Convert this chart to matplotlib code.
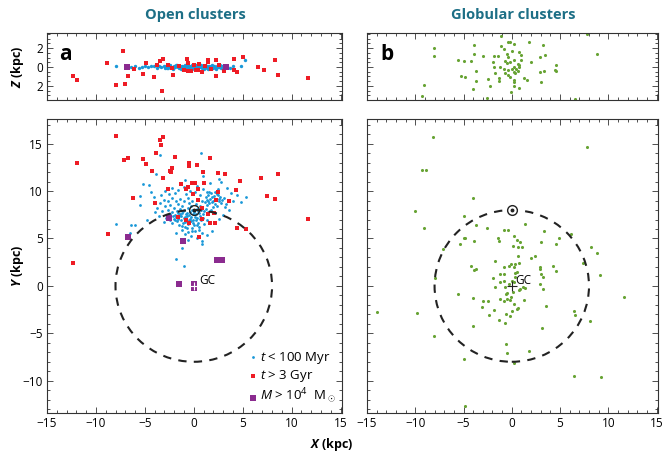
import numpy as np
import matplotlib.pyplot as plt
from matplotlib.patches import Circle
from matplotlib.ticker import MultipleLocator, FixedLocator, FixedFormatter

plt.rcParams['font.family'] = ['Open Sans', 'DejaVu Sans']
plt.rcParams['mathtext.fontset'] = 'custom'
plt.rcParams['mathtext.rm'] = 'Open Sans'
plt.rcParams['mathtext.it'] = 'Open Sans:italic'
plt.rcParams['mathtext.bf'] = 'Open Sans:bold'
plt.rcParams['mathtext.bfit'] = 'Open Sans:italic:bold'

# ---- open clusters, young (t < 100 Myr), X-Y plane
blue_xy = np.array([
    (-2.2, 10.3), (-1.6, 10.1), (-1.0, 10.4), (-0.4, 10.0), (0.3, 10.5), (0.9, 10.2), (1.3, 9.9),
    (-2.9, 10.0), (-3.4, 9.6), (-2.5, 9.7), (-1.9, 9.8), (-0.8, 9.7), (0.1, 9.9), (0.6, 9.6),
    (1.2, 9.4), (1.5, 9.6), (1.8, 9.8), (2.1, 9.5), (2.4, 9.7), (2.7, 9.4), (2.9, 9.1), (1.4, 9.1),
    (1.7, 9.2), (2.0, 9.0), (2.3, 9.2), (2.6, 8.9), (1.1, 8.8), (1.6, 8.7), (2.2, 8.6), (2.8, 8.7),
    (3.1, 9.3), (1.9, 9.4), (2.5, 9.6), (1.3, 8.5), (3.3, 8.6), (2.0, 8.3),
    (1.6, 9.9), (2.2, 9.9), (2.6, 9.2), (1.5, 8.9), (1.9, 8.8), (2.4, 8.4),
    (-3.0, 9.1), (-2.6, 8.9), (-2.2, 9.3), (-1.8, 9.0), (-1.4, 9.2), (-1.0, 8.9), (-0.6, 9.3),
    (-0.2, 9.0), (0.4, 9.2), (0.8, 8.9), (-2.4, 8.5), (-1.6, 8.6), (-1.2, 8.4), (-0.5, 8.7),
    (0.2, 8.6), (0.6, 8.4), (-3.5, 8.7), (-2.9, 8.4),
    (-2.6, 8.0), (-2.2, 7.8), (-2.0, 8.2), (-1.7, 7.9), (-1.4, 8.1), (-1.2, 7.7), (-1.0, 8.0),
    (-0.8, 7.6), (-0.6, 8.2), (-0.4, 7.8), (-0.3, 8.4), (-0.1, 7.6), (0.3, 8.1), (0.5, 7.7),
    (0.7, 8.0), (0.9, 7.6), (1.2, 8.1), (1.5, 7.8), (1.8, 8.0), (2.2, 7.7), (-1.9, 7.5),
    (-1.5, 7.4), (-0.9, 7.3), (-0.5, 7.5), (0.1, 7.3), (0.6, 7.4),
    (-2.8, 7.2), (-2.4, 7.0), (-2.0, 7.1), (-1.7, 6.8), (-1.3, 7.0), (-1.1, 6.6), (-0.8, 6.9),
    (-0.6, 6.5), (-0.3, 6.8), (0.0, 6.4), (0.2, 6.9), (0.4, 6.6), (0.7, 6.9), (1.0, 6.5),
    (1.3, 7.0), (-1.5, 6.4), (-0.9, 6.2), (-0.2, 6.1), (0.5, 6.2), (1.6, 6.7), (-2.2, 6.6),
    (-3.0, 6.7), (-1.2, 5.9), (-0.6, 5.7), (0.1, 5.8), (0.8, 5.6), (-0.3, 5.3), (0.3, 5.1),
    (1.4, 5.4), (-0.6, 4.8), (0.8, 4.7), (1.9, 5.8), (-1.8, 5.6),
    (-1.1, 7.9), (-0.7, 7.7), (-0.2, 8.0), (0.4, 7.9), (-1.6, 7.7), (-0.4, 7.1), (0.2, 7.6),
    (-1.3, 7.4), (-0.1, 7.0), (0.9, 7.2), (-2.4, 7.6), (1.0, 7.9),
    (-1.8, 7.3), (-1.4, 7.6), (-1.0, 7.2), (-0.7, 7.4), (-0.3, 7.3), (0.0, 7.8), (0.3, 7.2),
    (0.6, 7.1), (-0.9, 6.7), (-0.5, 6.9), (-0.1, 6.6), (0.3, 6.4), (-1.2, 6.3), (-0.7, 6.1),
    (-2.1, 7.4), (-1.6, 7.1), (-1.9, 6.9), (-0.2, 5.8), (0.5, 5.9), (-0.9, 5.5),
    (0.7, 14.0), (-3.45, 13.8), (-3.9, 11.8), (2.6, 11.3), (2.8, 11.0), (0.9, 11.6), (-0.9, 11.2),
    (1.7, 10.8), (-5.2, 10.7), (-4.6, 10.6), (-4.4, 9.9), (-4.1, 9.4), (-5.5, 9.5), (-5.5, 8.5),
    (3.4, 10.3), (3.8, 9.8), (4.4, 9.6), (4.8, 8.8), (5.3, 9.4), (4.0, 8.9), (3.6, 8.0),
    (3.0, 7.5), (2.6, 7.1), (-4.0, 7.8), (-3.6, 7.4), (-4.8, 7.0), (-6.4, 6.4), (-6.5, 5.6),
    (-8.0, 6.5), (-6.0, 6.4), (-1.8, 2.85), (-1.05, 2.1), (-1.25, 4.0), (0.8, 4.4), (-3.2, 7.9),
    (-3.8, 8.2), (2.5, 10.2), (3.2, 8.3),
])

# ---- open clusters, young, X-Z plane
blue_xz = np.array([
    (-8.0, 0.1), (-6.4, -0.05), (-6.0, 0.05), (-5.6, -0.1), (-5.3, 0.0), (-5.0, 0.1), (-4.7, -0.05),
    (-4.4, 0.15), (-4.1, 0.05), (-3.8, -0.1), (-3.6, 0.1), (-3.3, 0.0), (-3.0, 0.15), (-2.9, -0.1),
    (4.8, 0.15), (5.2, 0.75), (4.0, 0.05), (3.7, -0.1),
    (-2.8, 0.05), (-2.6, -0.1), (-2.5, 0.12), (-2.3, 0.0), (-2.2, -0.15), (-2.0, 0.1), (-1.9, -0.05),
    (-1.8, 0.18), (-1.6, 0.0), (-1.5, -0.12), (-1.4, 0.1), (-1.3, -0.2), (-1.2, 0.05), (-1.0, 0.15),
    (-0.9, -0.1), (-0.8, 0.0), (-0.7, 0.2), (-0.6, -0.15), (-0.5, 0.08), (-0.4, -0.05), (-0.3, 0.15),
    (-0.2, -0.2), (-0.1, 0.0), (0.0, 0.1), (0.1, -0.1), (0.2, 0.18), (0.3, 0.0), (0.4, -0.15),
    (0.5, 0.1), (0.6, -0.05), (0.7, 0.2), (0.8, -0.1), (0.9, 0.05), (1.0, -0.2), (1.1, 0.12),
    (1.2, 0.0), (1.3, -0.12), (1.4, 0.15), (1.5, -0.05), (1.6, 0.08), (1.7, -0.15), (1.8, 0.1),
    (1.9, 0.0), (2.0, -0.1), (2.1, 0.15), (2.2, 0.02), (2.3, -0.12), (2.4, 0.1), (2.5, -0.05),
    (2.6, 0.12), (2.7, 0.0), (2.8, -0.1), (2.9, 0.08), (3.0, -0.02), (3.1, 0.1), (3.2, -0.08),
    (3.3, 0.05), (3.4, 0.0), (-0.45, 0.0), (0.35, 0.05), (1.25, 0.1), (2.15, -0.05), (-1.65, 0.1),
    (-0.95, -0.02), (-2.05, -0.02), (2.55, 0.03), (0.05, -0.03), (-1.1, -0.05),
    (-2.7, -0.15), (-2.4, 0.2), (-2.1, -0.2), (-1.7, 0.22), (-1.35, -0.05), (-0.85, 0.2),
    (-0.55, -0.2), (-0.15, 0.2), (0.25, -0.2), (0.65, 0.18), (1.05, -0.05), (1.45, -0.2),
    (1.85, 0.2), (2.25, -0.2), (2.65, 0.2), (3.05, -0.15), (3.35, 0.15), (-2.95, 0.02),
])

# ---- open clusters, old (t > 3 Gyr)
red_xy = np.array([
    (-7.9, 15.8), (-11.9, 13.0), (-3.1, 15.7), (-3.45, 15.4), (-3.4, 14.9), (-3.9, 14.0), (-7.1, 13.3),
    (-6.7, 13.5), (-5.2, 13.4), (-4.9, 12.9), (-1.9, 13.6), (1.7, 13.5), (-0.5, 13.0), (-0.5, 12.6),
    (0.3, 12.8), (-4.3, 12.1), (-2.2, 12.4), (-2.3, 12.0), (-2.4, 12.1), (0.95, 12.0), (2.5, 11.9),
    (3.2, 11.8), (-3.1, 11.4), (4.7, 11.1), (6.9, 11.4), (8.6, 11.75), (-1.3, 10.7), (-0.2, 10.8),
    (0.1, 10.8), (1.0, 10.9), (-2.6, 10.2), (-0.8, 10.2), (-0.6, 10.4), (0.4, 10.25), (2.5, 9.9),
    (4.3, 10.1), (7.5, 9.5), (8.3, 9.2), (-6.2, 9.3), (-4.0, 8.7), (3.6, 8.9), (-0.1, 9.7),
    (0.4, 9.1), (2.3, 9.1), (11.7, 7.1), (-8.8, 5.5), (-12.3, 2.4), (4.4, 6.1), (5.3, 6.0),
    (2.2, 6.6), (1.7, 6.6), (0.5, 5.2), (-0.5, 6.6), (0.8, 7.05), (2.1, 7.65), (0.8, 8.2),
    (1.45, 7.6), (-0.8, 7.0), (-1.6, 7.3),
])
red_xz = np.array([
    (-12.3, -1.0), (-11.9, -1.4), (-8.9, 0.45), (-7.2, 1.65), (-7.9, -1.95), (-7.0, -1.8),
    (-6.7, -1.0), (-6.1, -0.2), (-4.9, 0.45), (-5.2, -0.7), (-4.1, -1.1), (-3.8, 0.25), (-3.5, 0.6),
    (-3.1, 0.8), (-3.2, -2.5), (-2.6, 0.2), (-2.2, -0.1), (-2.1, -0.9), (-1.5, 0.1), (-1.0, -0.3),
    (-0.7, 0.8), (-0.6, 0.4), (-0.6, -0.45), (-0.3, -0.4), (0.0, 0.2), (0.2, -0.3), (0.45, -0.35),
    (0.5, 0.3), (0.8, -0.5), (1.1, 0.1), (1.5, 0.5), (1.5, 0.7), (1.8, -0.2), (2.3, 0.7),
    (2.3, -1.0), (2.6, 0.2), (3.1, -0.4), (4.1, 0.8), (4.1, -0.35), (4.4, -0.5), (5.0, 1.05),
    (6.6, 0.0), (7.2, -0.3), (8.3, 0.7), (8.6, -0.9), (11.7, -1.2),
])

# ---- open clusters, massive (M > 1e4 Msun)
purple_xy = np.array([
    (-6.7, 5.2), (-2.5, 7.2), (-1.1, 4.7), (2.4, 2.7), (2.9, 2.7), (-1.55, 0.25), (0.0, 0.2), (0.0, -0.2),
])
purple_xz = np.array([(-6.8, -0.05), (3.3, 0.02)])

# ---- globular clusters
green_xy = np.array([
    (-8.2, 15.7), (7.8, 14.6), (-9.3, 12.25), (-8.85, 12.25), (-4.06, 9.26), (-10.0, 7.9), (-4.9, 7.36),
    (-9.1, 6.06), (-3.75, 6.44), (-2.57, 6.09), (1.32, 6.48), (-0.83, 5.92), (-0.35, 5.92), (3.3, 5.8),
    (6.15, 5.5), (-4.9, 5.0), (-4.8, 5.1), (-3.96, 4.75), (-1.4, 5.1), (-1.3, 4.75), (0.2, 5.3),
    (0.5, 4.86), (0.8, 4.65), (0.66, 4.05), (1.04, 4.08), (4.9, 5.03), (3.0, 4.68), (4.6, 4.37),
    (-5.35, 4.44), (-7.1, 3.94), (0.17, 4.26), (8.2, 4.12), (8.8, 3.42), (0.66, 3.2), (1.94, 2.99),
    (2.43, 3.17), (-1.77, 2.64), (-0.3, 2.1), (-0.1, 2.3), (0.35, 2.3), (0.2, 1.95), (0.7, 2.45),
    (-0.83, 2.04), (-4.2, 2.08), (-3.7, 1.83), (-3.96, 1.69), (2.95, 2.0), (2.88, 1.76), (4.27, 2.08),
    (4.6, 1.62), (0.3, 1.4), (0.55, 1.48), (7.4, 2.4), (9.1, 1.13), (-1.25, 1.23), (-0.76, 1.23),
    (-1.9, 0.85), (-8.0, 0.8), (0.0, 0.56), (0.2, 0.39), (2.88, 0.25), (-1.2, 0.46), (-1.75, -0.14),
    (-0.7, -0.07), (0.83, -0.28), (1.2, -0.14), (1.4, -0.2), (3.2, -0.3), (-5.6, -0.88), (-4.0, -1.3),
    (11.6, -1.13), (-13.96, -2.75), (-9.8, -2.9), (-8.06, -5.25), (-5.0, -7.7), (-4.0, -4.2),
    (-3.0, -1.55), (-2.5, -1.62), (-3.1, -2.25), (-2.36, -3.1), (-1.84, -2.54), (-1.3, -3.6),
    (-0.7, -3.94), (-0.6, -3.0), (-0.2, -3.13), (0.07, -2.6), (0.2, -1.9), (0.55, -2.46), (0.66, -2.32),
    (1.28, -1.44), (-1.2, -1.37), (-0.83, -1.58), (-0.5, -1.4), (-0.17, -1.48), (-0.07, -1.13),
    (-0.6, -0.88), (-0.45, -0.77), (0.7, -0.42), (3.1, -4.47), (3.5, -2.15), (1.74, -6.87),
    (-0.6, -6.13), (-0.45, -7.1), (0.2, -8.13), (6.42, -2.64), (6.53, -3.06), (8.1, -3.7),
    (6.4, -9.5), (9.27, -9.58), (-4.8, -12.7), (3.05, 1.23), (3.2, 0.99), (-0.8, 0.5), (0.3, 0.9),
    (0.1, -0.6), (-0.3, 0.15),
])
green_xz = np.array([
    (-1.1, 3.33), (7.8, 3.44), (-3.9, 2.35), (-0.35, 2.6), (-0.14, 2.6), (-1.15, 2.25), (0.28, 2.46),
    (1.74, 2.63), (3.23, 2.32), (-8.05, 2.0), (-8.05, 1.16), (8.8, 1.4), (-3.9, 1.33), (-3.0, 1.16),
    (-1.8, 1.2), (-1.4, 1.2), (-0.5, 1.33), (-0.35, 1.05), (0.7, 1.54), (1.0, 1.26), (0.0, 1.68),
    (-0.85, 1.9), (2.95, 1.05), (3.47, 1.23), (-5.6, 0.7), (-4.9, 0.67), (-4.2, 0.6), (-1.9, 0.5),
    (-0.75, 0.6), (-0.5, 0.4), (-0.15, 0.55), (0.2, 0.7), (0.6, 0.35), (0.75, 0.2), (1.0, 0.7),
    (1.98, 0.49), (4.6, 0.21), (-1.85, 0.0), (-1.2, 0.0), (-0.85, -0.18), (-0.4, -0.35), (0.0, -0.18),
    (0.25, 0.0), (0.42, -0.25), (0.6, -0.42), (0.75, 0.0), (0.35, -0.63), (-3.7, -0.42),
    (-1.74, -0.63), (-0.75, -0.6), (-0.35, -0.88), (-0.15, -1.05), (0.2, -0.53), (2.9, -0.56),
    (3.3, -0.42), (4.6, -0.39), (4.5, -0.35), (-5.3, -1.0), (-4.8, -1.1), (-3.7, -1.47),
    (-2.43, -1.26), (-1.28, -1.2), (-1.28, -1.5), (0.2, -1.33), (0.2, -1.6), (1.3, -1.12),
    (1.53, -1.4), (3.05, -1.54), (-9.1, -1.96), (-4.0, -2.3), (-2.3, -2.0), (0.24, -2.0),
    (0.7, -2.2), (-0.07, -2.6), (-9.3, -3.05), (-2.6, -3.26), (6.5, -3.44),
])

BLUE = '#1a98d8'
RED = '#ee1c25'
PURPLE = '#8b2b8f'
GREEN = '#67a333'
TEAL = '#1d6f86'
FRAME = '#333333'

fig = plt.figure(figsize=(6.64, 4.55), dpi=100)
ax_az = fig.add_axes([0.0708, 0.7802, 0.4443, 0.1473])
ax_a = fig.add_axes([0.0708, 0.0923, 0.4443, 0.6462])
ax_bz = fig.add_axes([0.5527, 0.7802, 0.4383, 0.1473])
ax_b = fig.add_axes([0.5527, 0.0923, 0.4383, 0.6462])


def style(ax, top):
    ax.set_xlim(-15, 15.15)
    if top:
        ax.set_ylim(-3.5, 3.6)
        ax.yaxis.set_major_locator(FixedLocator([-2, 0, 2]))
        ax.yaxis.set_major_formatter(FixedFormatter(['2', '0', '2']))
        ax.yaxis.set_minor_locator(MultipleLocator(0.5))
    else:
        ax.set_ylim(-13.4, 17.6)
        ax.yaxis.set_major_locator(MultipleLocator(5))
        ax.yaxis.set_minor_locator(MultipleLocator(1))
    ax.xaxis.set_major_locator(MultipleLocator(5))
    ax.xaxis.set_minor_locator(MultipleLocator(1))
    ax.tick_params(which='both', direction='in', top=True, right=True, color=FRAME,
                   width=0.6, labelsize=8.5, pad=3)
    ax.tick_params(which='major', length=4.5)
    ax.tick_params(which='minor', length=2.5)
    for sp in ax.spines.values():
        sp.set_color(FRAME)
        sp.set_linewidth(0.8)


for ax, top in [(ax_az, True), (ax_a, False), (ax_bz, True), (ax_b, False)]:
    style(ax, top)
ax_az.tick_params(labelbottom=False)
ax_bz.tick_params(labelbottom=False, labelleft=False)
ax_b.tick_params(labelleft=False)

# panel a, top
ax_az.scatter(blue_xz[:, 0], blue_xz[:, 1], s=6, color=BLUE, lw=0, zorder=2)
ax_az.scatter(red_xz[:, 0], red_xz[:, 1], s=9, marker='s', color=RED, lw=0, zorder=3)
ax_az.scatter(purple_xz[:, 0], purple_xz[:, 1], s=14, marker='s', color=PURPLE, lw=0, zorder=4)
ax_az.text(0.064, 0.68, 'a', transform=ax_az.transAxes, fontsize=15, fontweight='bold',
           ha='center', va='center')

# panel a, bottom
h_blue = ax_a.scatter(blue_xy[:, 0], blue_xy[:, 1], s=4, color=BLUE, lw=0, zorder=2,
                      label=r'$t$ < 100 Myr')
h_red = ax_a.scatter(red_xy[:, 0], red_xy[:, 1], s=9, marker='s', color=RED, lw=0, zorder=3,
                     label=r'$t$ > 3 Gyr')
h_pur = ax_a.scatter(purple_xy[:, 0], purple_xy[:, 1], s=24, marker='s', color=PURPLE, lw=0,
                     zorder=4, label=r'$M$ > 10$^4$  M$_\odot$')
ax_a.add_patch(Circle((0, 0), 8, fill=False, ls=(0, (4, 3.5)), lw=1.5, color='#222222', zorder=5))
ax_a.plot(0, 8, 'o', mfc='none', mec='#222222', ms=7, mew=1.0, zorder=6)
ax_a.plot(0, 8, 'o', color='#222222', ms=1.8, zorder=6)
ax_a.plot(0, 0, '+', color='white', ms=6, mew=0.8, zorder=6)
ax_a.text(0.55, 0.55, 'GC', fontsize=8.5, ha='left', va='center', zorder=6)
leg = ax_a.legend(handles=[h_blue, h_red, h_pur], loc='lower right', frameon=False, fontsize=9.5,
                  handletextpad=0.05, borderaxespad=0.3, labelspacing=0.2, handlelength=1.0,
                  borderpad=0.2)

# panel b, top
ax_bz.scatter(green_xz[:, 0], green_xz[:, 1], s=5, color=GREEN, lw=0, zorder=2)
ax_bz.text(0.068, 0.68, 'b', transform=ax_bz.transAxes, fontsize=15, fontweight='bold',
           ha='center', va='center')

# panel b, bottom
ax_b.scatter(green_xy[:, 0], green_xy[:, 1], s=5, color=GREEN, lw=0, zorder=2)
ax_b.add_patch(Circle((0, 0), 8, fill=False, ls=(0, (4, 3.5)), lw=1.5, color='#222222', zorder=5))
ax_b.plot(0, 8, 'o', mfc='white', mec='#222222', ms=7, mew=1.0, zorder=6)
ax_b.plot(0, 8, 'o', color='#222222', ms=1.8, zorder=6)
ax_b.plot(0, 0, '+', color='#222222', ms=7, mew=0.8, zorder=6)
ax_b.text(0.35, 0.6, 'GC', fontsize=8.5, ha='left', va='center', zorder=6)

# titles and axis labels
fig.text(0.294, 0.966, 'Open clusters', color=TEAL, fontsize=10.5, fontweight='bold',
         ha='center', va='center')
fig.text(0.773, 0.966, 'Globular clusters', color=TEAL, fontsize=10.5, fontweight='bold',
         ha='center', va='center')
fig.text(0.027, 0.853, r'$\mathbfit{Z}$ (kpc)', rotation=90, fontsize=9, fontweight='bold',
         ha='center', va='center')
fig.text(0.027, 0.415, r'$\mathbfit{Y}$ (kpc)', rotation=90, fontsize=9, fontweight='bold',
         ha='center', va='center')
fig.text(0.5, 0.022, r'$\mathbfit{X}$ (kpc)', fontsize=9, fontweight='bold',
         ha='center', va='center')

fig.savefig('out.png', dpi=100)
